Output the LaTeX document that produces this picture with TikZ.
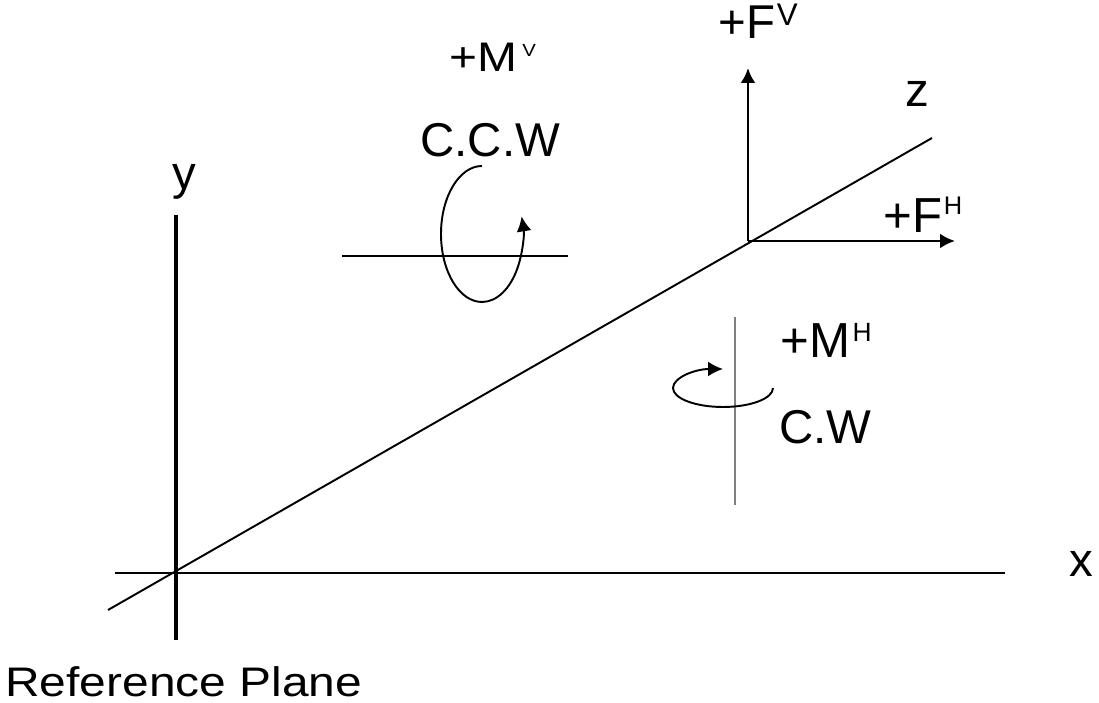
\documentclass[tikz,border=0pt]{standalone}
\usepackage{fontspec}
\setmainfont{Liberation Sans}
\usetikzlibrary{arrows.meta}
% raised index: raise, size, text
\newcommand{\upidx}[3]{\raisebox{#1}{\fontsize{#2}{#2}\selectfont #3}}

\begin{document}
\begin{tikzpicture}[
    x=0.02cm, y=0.02cm,
    every node/.style={inner sep=0pt},
    lab/.style={font=\fontsize{27}{30}\selectfont},
    biglab/.style={font=\fontsize{28}{32}\selectfont},
    smalllab/.style={font=\fontsize{23.5}{28}\selectfont, xscale=1.16},
    axis/.style={line width=1.1pt},
    refaxis/.style={line width=2pt},
    force/.style={-{Latex[length=0.3cm, width=0.3cm]}, line width=1.6pt},
    moment/.style={-{Latex[length=0.3cm, width=0.3cm]}, line width=1.1pt},
    momaxis/.style={line width=0.6pt}
]
\useasboundingbox (0,0) rectangle (1099,703);
% axes
\coordinate (ytop) at (176,488);
\coordinate (ybot) at (176,63);
\coordinate (xleft) at (115,130);
\coordinate (xright) at (1005,130);
\coordinate (zlow) at (108,93);
\coordinate (zhigh) at (932,565);
\draw[refaxis] (ytop) -- (ybot);
\draw[axis] (xleft) -- (xright);
\draw[axis] (zlow) -- (zhigh);
\node[lab, anchor=base] (ylab) at (184,513) {y};
\node[lab, anchor=base] (xlab) at (1081,126) {x};
\node[lab, anchor=base] (zlab) at (917,596) {z};
\node[smalllab, anchor=base west, text depth=0pt] (ref) at (5,6) {Reference Plane};
% forces
\coordinate (P) at (748,462);
\coordinate (fvtip) at (748,635);
\coordinate (fhtip) at (955,462);
\draw[force] (P) -- (fvtip);
\draw[force] (P) -- (fhtip);
\node[lab, anchor=base west] (fv) at (718,664) {+F\hspace{1pt}\upidx{7.9pt}{17.8}{V}};
\node[biglab, anchor=base west] (fh) at (883,470) {+F\hspace{1pt}\upidx{10.5pt}{14.5}{H}};
% vertical moment
\coordinate (mvl) at (342,447);
\coordinate (mvr) at (568,447);
\draw[momaxis] (mvl) -- (mvr);
\draw[moment] (482,537) arc[start angle=90, end angle=375, x radius=41, y radius=68];
\node[smalllab, anchor=base west] (mv) at (449,631) {+M\hspace{2.5pt}\upidx{9pt}{10}{V}};
\node[lab, anchor=base west] (ccw) at (420,546) {C.C.W};
% horizontal moment
\coordinate (mhtop) at (735,386);
\coordinate (mhbot) at (735,198);
\draw[momaxis, gray] (mhtop) -- (mhbot);
\draw[moment] (773,315) arc[start angle=0, end angle=-270, x radius=50, y radius=19];
\node[biglab, anchor=base west] (mh) at (780,345) {+M\hspace{1.5pt}\upidx{9.6pt}{15}{H}};
\node[lab, anchor=base west] (cw) at (779,259) {C.W};
\end{tikzpicture}
\end{document}
